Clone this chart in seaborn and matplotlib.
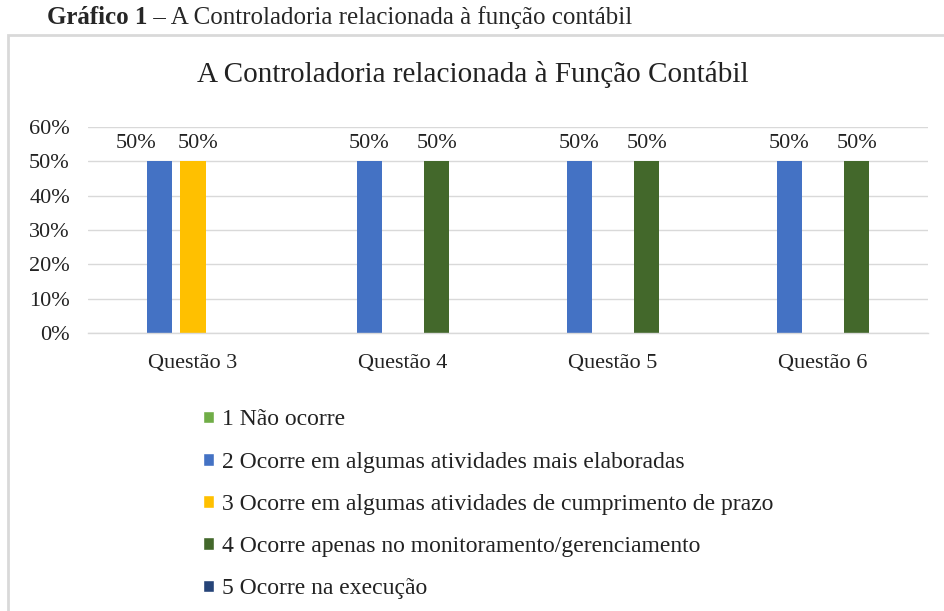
import pandas as pd
import matplotlib.pyplot as plt
import seaborn as sns
from matplotlib.patches import Rectangle
from matplotlib.patches import Patch

# dados do grafico
questoes = ["Questão 3", "Questão 4", "Questão 5", "Questão 6"]
respostas = [
    "1 Não ocorre",
    "2 Ocorre em algumas atividades mais elaboradas",
    "3 Ocorre em algumas atividades de cumprimento de prazo",
    "4 Ocorre apenas no monitoramento/gerenciamento",
    "5 Ocorre na execução",
]
r1 = [0, 0, 0, 0]
r2 = [50, 50, 50, 50]
r3 = [50, 0, 0, 0]
r4 = [0, 50, 50, 50]
r5 = [0, 0, 0, 0]
cores = ["#70AD47", "#4472C4", "#FFC000", "#43682B", "#264478"]
yticks = [0, 10, 20, 30, 40, 50, 60]

linhas = []
for resp, vals in zip(respostas, [r1, r2, r3, r4, r5]):
    for q, v in zip(questoes, vals):
        linhas.append({"Questao": q, "Resposta": resp, "Valor": v})
df = pd.DataFrame(linhas)

sns.set_style("white")
plt.rcParams["font.family"] = ["Liberation Serif", "DejaVu Serif"]
cor_txt = "#222222"

fig = plt.figure(figsize=(9.45, 6.11), dpi=100)
ax = fig.add_axes([0.0931, 0.455, 0.889, 0.337])

sns.barplot(
    data=df, x="Questao", y="Valor", hue="Resposta",
    hue_order=respostas, palette=cores, width=0.8, gap=0.25,
    saturation=1, linewidth=0, ax=ax, legend=False,
)

# rotulos de dados (afasta rotulos vizinhos como no Excel)
todas = [(b.get_x() + b.get_width() / 2, b.get_height())
         for cont in ax.containers for b in cont if b.get_height() > 0]
todas.sort()
for i, (x, h) in enumerate(todas):
    dx = 0
    if i + 1 < len(todas) and todas[i + 1][0] - x < 0.2:
        dx = -17
    elif i > 0 and x - todas[i - 1][0] < 0.2:
        dx = 4
    ax.annotate(f"{h:.0f}%", (x, h), xytext=(dx, 6), textcoords="offset points",
                ha="center", va="bottom", fontsize=16, color=cor_txt)

ax.set_ylim(0, 60)
ax.set_yticks(yticks)
ax.set_yticklabels([f"{v}%" for v in yticks])
ax.yaxis.grid(True, color="#d9d9d9", linewidth=1)
ax.set_axisbelow(True)
for s in ax.spines.values():
    s.set_visible(False)
ax.spines["bottom"].set_visible(True)
ax.spines["bottom"].set_color("#d9d9d9")
ax.spines["bottom"].set_linewidth(1)
ax.tick_params(axis="both", length=0, labelsize=16, colors=cor_txt)
ax.tick_params(axis="y", pad=13)
ax.tick_params(axis="x", pad=15)
ax.set_xlabel("")
ax.set_ylabel("")

# moldura do grafico
fig.patches.append(Rectangle((8 / 945, -0.05), 1.1, 1 - 35 / 611 + 0.05,
                             transform=fig.transFigure, fill=False,
                             edgecolor="#d9d9d9", linewidth=2))

fig.text(0.5, 1 - 75 / 611, "A Controladoria relacionada à Função Contábil",
         ha="center", va="center", fontsize=21, color=cor_txt)

# legenda
handles = [Patch(facecolor=c, label=r) for c, r in zip(cores, respostas)]
fig.legend(handles=handles, loc="upper left", bbox_to_anchor=(0.205, 1 - 400 / 611),
           frameon=False, fontsize=17, handlelength=0.45, handleheight=0.45,
           handletextpad=0.35, labelspacing=0.9, labelcolor=cor_txt,
           borderaxespad=0)

# titulo externo
t1 = fig.text(47 / 945, 1 - 18 / 611, "Gráfico 1", fontweight="bold",
              fontsize=18, ha="left", va="center")
fig.canvas.draw()
bb = t1.get_window_extent()
fig.text(bb.x1 / 945, 1 - 18 / 611, " – A Controladoria relacionada à função contábil",
         fontsize=18, ha="left", va="center")

fig.savefig("out.png", dpi=100)
